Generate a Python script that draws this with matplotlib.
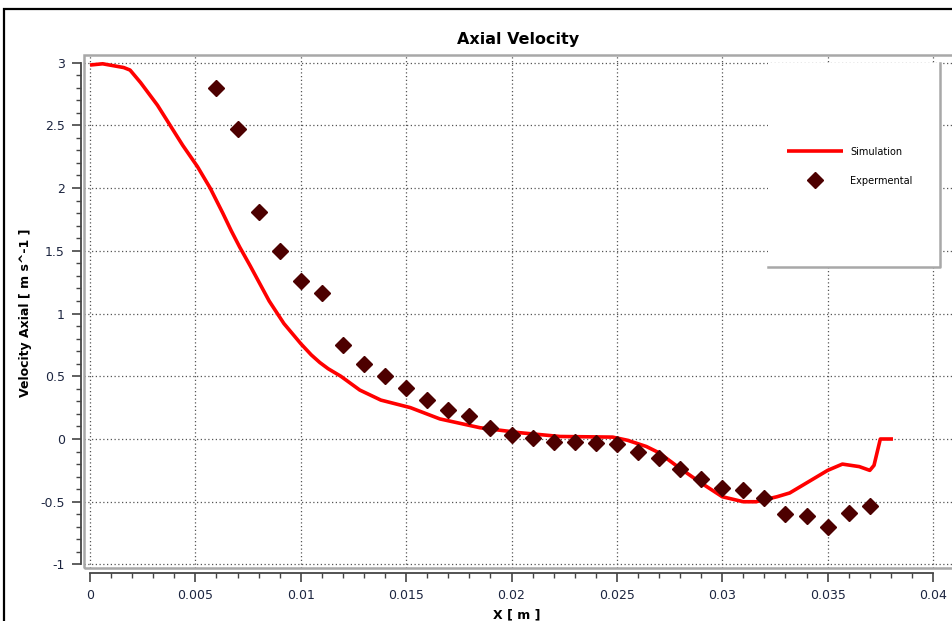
import matplotlib
matplotlib.use("Agg")
import matplotlib.pyplot as plt
from matplotlib.patches import Rectangle
from matplotlib.lines import Line2D

# simulation curve
sim_x = [0, 0.0006, 0.0016, 0.0019, 0.0024, 0.0032, 0.0038, 0.0044, 0.0051, 0.0057,
         0.0063, 0.0067, 0.0071, 0.0076, 0.0085, 0.0092, 0.0100, 0.0105, 0.0109, 0.0113,
         0.0119, 0.0128, 0.0138, 0.0152, 0.0166, 0.0185, 0.0204, 0.0223, 0.0248, 0.0255,
         0.0264, 0.027, 0.0278, 0.0289, 0.030, 0.031, 0.0316, 0.0326, 0.0332, 0.0342,
         0.035, 0.0357, 0.0365, 0.037, 0.0372, 0.0375, 0.0381]
sim_y = [2.98, 2.99, 2.96, 2.94, 2.84, 2.66, 2.50, 2.34, 2.17, 2.00,
         1.80, 1.66, 1.53, 1.38, 1.10, 0.92, 0.76, 0.67, 0.61, 0.56,
         0.50, 0.39, 0.31, 0.25, 0.16, 0.09, 0.05, 0.02, 0.015, -0.01,
         -0.06, -0.11, -0.21, -0.34, -0.46, -0.50, -0.50, -0.46, -0.43, -0.33,
         -0.25, -0.20, -0.22, -0.25, -0.21, 0.0, 0.0]

# experimental points
exp_x = [0.006, 0.007, 0.008, 0.009, 0.010, 0.011, 0.012, 0.013, 0.014, 0.015,
         0.016, 0.017, 0.018, 0.019, 0.020, 0.021, 0.022, 0.023, 0.024, 0.025,
         0.026, 0.027, 0.028, 0.029, 0.030, 0.031, 0.032, 0.033, 0.034, 0.035,
         0.036, 0.037]
exp_y = [2.80, 2.47, 1.81, 1.50, 1.26, 1.16, 0.75, 0.60, 0.50, 0.41,
         0.31, 0.23, 0.18, 0.09, 0.03, 0.01, -0.02, -0.02, -0.03, -0.04,
         -0.10, -0.15, -0.24, -0.32, -0.39, -0.41, -0.47, -0.60, -0.61, -0.70,
         -0.59, -0.53]

x_ticks = [0, 0.005, 0.01, 0.015, 0.02, 0.025, 0.03, 0.035, 0.04]
x_labels = ["0", "0.005", "0.01", "0.015", "0.02", "0.025", "0.03", "0.035", "0.04"]
y_ticks = [-1, -0.5, 0, 0.5, 1, 1.5, 2, 2.5, 3]
y_labels = ["-1", "-0.5", "0", "0.5", "1", "1.5", "2", "2.5", "3"]

W, H = 952, 621
fig = plt.figure(figsize=(W / 100, H / 100), dpi=100)
fig.patch.set_facecolor("white")

# outer black border
fig.add_artist(Rectangle((3.5 / W, -0.1), 1.2, 1 - 8.5 / H + 0.1, transform=fig.transFigure,
                         fill=False, ec="black", lw=1.6))

ax = fig.add_axes([84 / W, 1 - 568 / H, (960 - 84) / W, (568 - 55) / H])
ax.set_xlim(-0.000285, 0.04128)
ax.set_ylim(-1.028, 3.06)

ax.grid(True, which="major", color="#555555", linestyle=(0, (1, 2)), linewidth=0.9)
ax.set_axisbelow(True)

ax.plot(sim_x, sim_y, color="#ff0000", lw=2.6, label="Simulation",
        solid_joinstyle="round", solid_capstyle="butt")
ax.plot(exp_x, exp_y, linestyle="none", marker="D", ms=8, color="#4d0000",
        mec="#4d0000", label="Expermental")

# gray frame around plot area
ax.add_patch(Rectangle((0, 0), 1, 1, transform=ax.transAxes, fill=False,
                       ec="#a8a8a8", lw=1.8, clip_on=False, zorder=5))

for s in ["top", "right"]:
    ax.spines[s].set_visible(False)
ax.spines["left"].set_position(("outward", 2.2))
ax.spines["bottom"].set_position(("outward", 3.6))
ax.spines["left"].set_bounds(-1, 3)
ax.spines["bottom"].set_bounds(0, 0.04)
for s in ["left", "bottom"]:
    ax.spines[s].set_color("#444444")
    ax.spines[s].set_linewidth(1.3)

ax.set_xticks(x_ticks)
ax.set_xticklabels(x_labels)
ax.set_xticks([i / 1000 for i in range(41)], minor=True)
ax.set_yticks(y_ticks)
ax.set_yticklabels(y_labels)
ax.set_yticks([i / 10 for i in range(-10, 31)], minor=True)
ax.tick_params(which="major", length=6.5, width=1.2, color="#444444", labelsize=9,
               labelcolor="#1c2540", pad=5)
ax.tick_params(which="minor", length=3.6, width=1.0, color="#444444")

ax.set_title("Axial Velocity", fontsize=11.5, fontweight="bold", x=(518 - 84) / (960 - 84), pad=8)
ax.set_xlabel("X [ m ]", fontsize=9, fontweight="bold")
ax.xaxis.set_label_coords((517 - 84) / (960 - 84), -(608 - 568) / (568 - 55))
ax.set_ylabel("Velocity Axial [ m s^-1 ]", fontsize=9, fontweight="bold")
ax.yaxis.set_label_coords(-(84 - 32) / (960 - 84), (568 - 313) / (568 - 55))

# legend box: white with gray right/bottom edges
ax.add_patch(Rectangle((768 / W, 1 - 267 / H), (940 - 768) / W, (267 - 63) / H,
                       transform=fig.transFigure, fc="white", ec="none", zorder=6, clip_on=False))
ax.add_line(Line2D([768 / W, 940 / W, 940 / W], [1 - 267 / H, 1 - 267 / H, 1 - 63 / H],
                   transform=fig.transFigure, color="#a8a8a8", lw=1.8, zorder=7, clip_on=False))
leg = ax.legend(loc="upper left", bbox_to_anchor=(778 / W, 1 - 138 / H),
                bbox_transform=fig.transFigure, frameon=False, fontsize=7,
                handlelength=5.8, handletextpad=0.7, labelspacing=1.95, numpoints=1)
leg.set_zorder(8)

fig.savefig("out.png", dpi=100)
